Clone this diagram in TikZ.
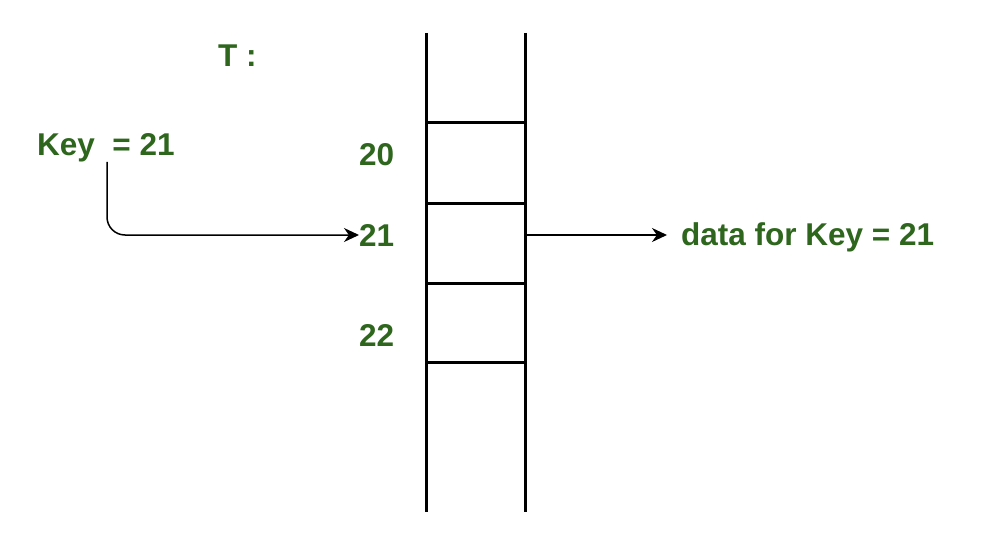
\documentclass[tikz,border=0pt]{standalone}
\usepackage{fontspec}
\setmainfont{Liberation Sans}
\usetikzlibrary{arrows.meta}
\definecolor{lbl}{RGB}{45,102,28}
\tikzset{
  lab/.style={font=\fontsize{31.5}{36}\selectfont\bfseries, text=lbl, inner sep=0pt, anchor=base west},
  tbl/.style={line width=3pt, black},
  conn/.style={line width=1.5pt, -{Stealth[length=15pt,width=14pt]}, rounded corners=18pt}
}
\begin{document}
\begin{tikzpicture}[x=1pt,y=-1pt]
\useasboundingbox (0,0) rectangle (984,548);
% table
\draw[tbl] (426,33) -- (426,512);
\draw[tbl] (525,33) -- (525,512);
\foreach \yy in {123,203,283,362} \draw[tbl] (426,\yy) -- (525,\yy);
% labels
\node[lab] (T) at (218,67) {T :};
\node[lab] (key) at (37,156) {Key\ \ = 21};
\node[lab] (n20) at (359,166) {20};
\node[lab] (n21) at (359,246) {21};
\node[lab] (n22) at (359,346) {22};
\node[lab] (data) at (681,245) {data for Key = 21};
\coordinate (ks) at (107,162);
\coordinate (c21) at (527,235);
% connectors
\draw[conn] (ks) |- (n21.west |- 0,235) coordinate (a21);
\draw[conn] (c21) -- ([xshift=-14pt]data.west |- 0,235);
\end{tikzpicture}
\end{document}
